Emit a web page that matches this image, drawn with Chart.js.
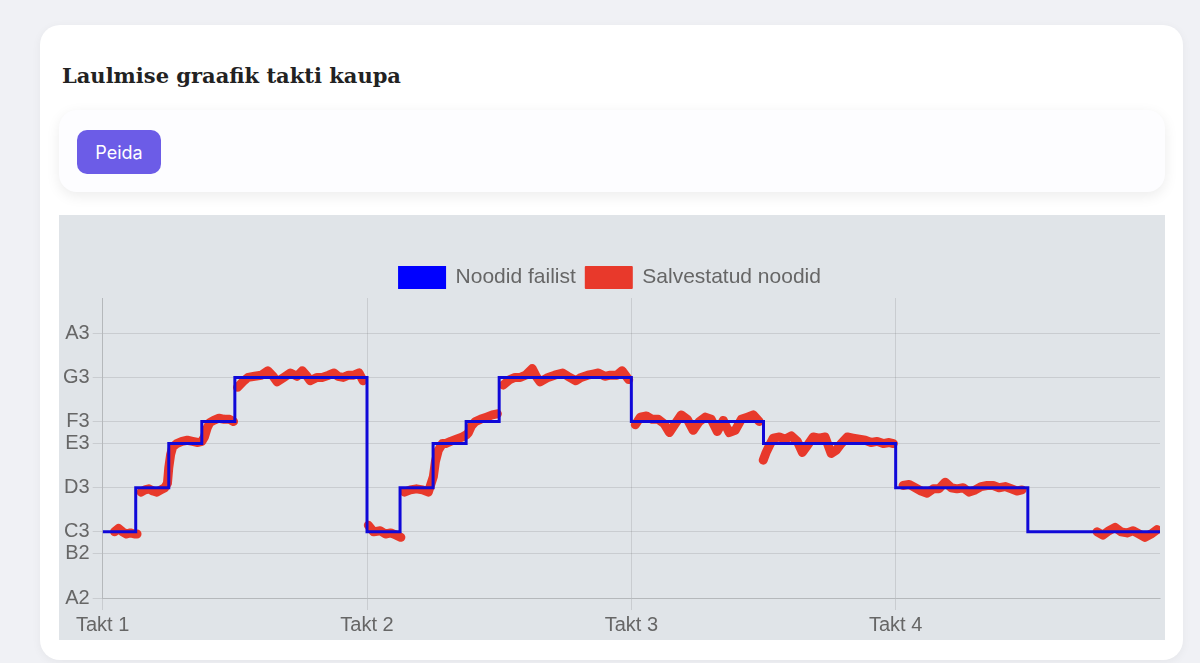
<!DOCTYPE html>
<html lang="et">
<head>
<meta charset="utf-8">
<title>Laulmise graafik takti kaupa</title>
<script src="https://cdn.jsdelivr.net/npm/chart.js@4.4.1/dist/chart.umd.min.js"></script>
<style>
  html, body { margin: 0; padding: 0; }
  body {
    background: #f0f1f5;
    width: 1200px;
    height: 663px;
    overflow: hidden;
    position: relative;
    font-family: Inter, "Noto Sans", sans-serif;
  }
  .card {
    position: absolute;
    left: 40px;
    top: 25px;
    width: 1143px;
    height: 635px;
    background: #fff;
    border-radius: 20px;
    box-shadow: 0 2px 10px rgba(0, 0, 0, 0.05);
  }
  .card h2 {
    position: absolute;
    left: 22px;
    top: 38px;
    margin: 0;
    font-family: "DejaVu Serif", serif;
    font-size: 21px;
    font-weight: bold;
    color: #222;
  }
  .panel {
    position: absolute;
    left: 19px;
    top: 85px;
    width: 1106px;
    height: 82px;
    background: #fdfdff;
    border-radius: 18px;
    box-shadow: 0 4px 14px rgba(0, 0, 0, 0.08);
  }
  .panel button {
    position: absolute;
    left: 18px;
    top: 20px;
    width: 84px;
    height: 44px;
    border: none;
    border-radius: 10px;
    background: #6c5ce7;
    color: #fff;
    font-family: Inter, sans-serif;
    font-size: 18px;
  }
  .chart-box {
    position: absolute;
    left: 19px;
    top: 190px;
    width: 1106px;
    height: 425px;
    background: #e0e4e8;
  }
</style>
</head>
<body>
<div class="card">
  <h2>Laulmise graafik takti kaupa</h2>
  <div class="panel"><button type="button">Peida</button></div>
  <div class="chart-box"><canvas id="pitchChart"></canvas></div>
</div>

<script>
// x = takt (measure) position, y = MIDI note number
const taktTicks = [1, 2, 3, 4];
const taktLabels = ["Takt 1", "Takt 2", "Takt 3", "Takt 4"];
const noteTicks = [45, 47, 48, 50, 52, 53, 55, 57];
const noteNames = ["A2", "B2", "C3", "D3", "E3", "F3", "G3", "A3"];

// notes from the file (step line)
const fileTime = [1, 1.125, 1.25, 1.375, 1.5, 2, 2.125, 2.25, 2.375, 2.5, 3, 3.5, 4, 4.5, 5];
const filePitch = [48, 50, 52, 53, 55, 48, 50, 52, 53, 55, 53, 52, 50, 48, 48];

// recorded pitch (null = break in the line)
const recTime = [
  1.045, 1.06, 1.075, 1.09, 1.105, 1.12, 1.13, 1.137,
  1.145, 1.16, 1.175, 1.19, 1.205, 1.22, 1.235, 1.245, 1.25, 1.257, 1.265, 1.28, 1.3, 1.32, 1.34, 1.36,
  1.375, 1.385, 1.395, 1.405, 1.42, 1.44, 1.46, 1.48, 1.495, 1.503,
  1.51, 1.53, 1.55, 1.575, 1.6, 1.625, 1.645, 1.66, 1.685, 1.71, 1.735, 1.755, 1.77, 1.785, 1.81, 1.83,
  1.855, 1.875, 1.89, 1.91, 1.93, 1.95, 1.97, 1.985, 1.995,
  2.005, 2.025, 2.05, 2.07, 2.09, 2.11, 2.128, 2.135,
  2.142, 2.164, 2.187, 2.21, 2.232, 2.251, 2.259, 2.27, 2.285, 2.297, 2.316, 2.338, 2.361, 2.376,
  2.384, 2.395, 2.41, 2.429, 2.452, 2.474, 2.493, 2.505,
  2.515, 2.54, 2.56, 2.58, 2.6, 2.625, 2.64, 2.655, 2.685, 2.71, 2.74, 2.76, 2.79, 2.81, 2.835, 2.855,
  2.875, 2.9, 2.92, 2.945, 2.965, 2.99, 3.005,
  3.015, 3.034, 3.057, 3.079, 3.102, 3.124, 3.144, 3.166, 3.189, 3.212, 3.234, 3.257, 3.28, 3.302,
  3.325, 3.348, 3.37, 3.393, 3.416, 3.439, 3.461, 3.484, 3.492,
  3.499, 3.51, 3.522, 3.537, 3.56, 3.582, 3.605, 3.628, 3.647, 3.665, 3.688, 3.711, 3.733, 3.756,
  3.775, 3.794, 3.817, 3.839, 3.862, 3.885, 3.907, 3.93, 3.953, 3.975, 3.991, 4.01,
  4.028, 4.051, 4.074, 4.096, 4.119, 4.142, 4.164, 4.187, 4.21, 4.232, 4.255, 4.278, 4.301, 4.323,
  4.346, 4.369, 4.391, 4.414, 4.437, 4.459, 4.478, 4.6,
  4.762, 4.784, 4.807, 4.83, 4.853, 4.875, 4.898, 4.921, 4.943, 4.966, 4.989
];
const recPitch = [
  48.0, 48.15, 48.0, 47.9, 47.95, 47.9, 47.9, null,
  49.8, 49.9, 49.95, 49.85, 49.8, 49.9, 50.0, 50.2, 50.9, 51.5, 51.85, 52.0, 52.1, 52.15, 52.1, 52.05,
  52.1, 52.3, 52.7, 52.95, 53.05, 53.15, 53.1, 53.1, 53.0, null,
  54.55, 54.8, 55.0, 55.05, 55.1, 55.3, 55.05, 54.8, 55.0, 55.2, 55.05, 55.3, 55.1, 54.85, 55.0, 55.0,
  55.1, 55.2, 55.05, 55.0, 55.1, 55.1, 55.2, 54.85, null,
  48.3, 48.0, 48.05, 47.9, 47.95, 47.85, 47.75, null,
  49.8, 49.9, 49.95, 49.9, 49.8, 50.5, 51.2, 51.7, 52.0, 52.0, 52.1, 52.2, 52.3, 52.4,
  52.5, 52.8, 53.0, 53.1, 53.2, 53.3, 53.35, null,
  54.65, 54.9, 55.0, 55.0, 55.1, 55.4, 55.05, 54.8, 55.0, 55.1, 55.2, 55.05, 54.85, 55.0, 55.1, 55.15,
  55.2, 55.05, 55.1, 55.1, 55.3, 54.9, null,
  52.85, 53.2, 53.25, 53.1, 53.1, 52.9, 52.5, 52.9, 53.3, 53.1, 52.6, 53.0, 53.2, 53.1,
  52.55, 53.05, 52.5, 52.6, 53.1, 53.2, 53.3, 53.0, null,
  51.25, 51.6, 51.9, 52.25, 52.3, 52.2, 52.35, 52.1, 51.6, 51.9, 52.3, 52.25, 52.3, 51.55,
  51.7, 52.0, 52.3, 52.25, 52.2, 52.15, 52.05, 52.1, 52.0, 52.05, 52.0, null,
  50.1, 50.15, 50.0, 49.85, 49.75, 49.95, 49.95, 50.25, 50.0, 49.95, 50.0, 49.8, 49.9, 50.05,
  50.1, 50.1, 50.0, 50.05, 49.95, 49.85, 49.9, null,
  48.0, 47.85, 48.05, 48.2, 48.0, 47.95, 48.05, 47.9, 47.75, 47.9, 48.1
];

const tickFont = { family: "'Liberation Sans', Arial, sans-serif", size: 20 };
const xTickFont = { family: "'Liberation Sans', Arial, sans-serif", size: 20, lineHeight: 1 };
const legendFont = { family: "'Liberation Sans', Arial, sans-serif", size: 21 };

const ctx = document.getElementById("pitchChart").getContext("2d");
new Chart(ctx, {
  type: "line",
  data: {
    datasets: [
      {
        label: "Noodid failist",
        data: fileTime.map((t, i) => ({ x: t, y: filePitch[i] })),
        borderColor: "#1008d8",
        backgroundColor: "#0000ff",
        borderWidth: 3,
        stepped: "before",
        pointRadius: 0,
      },
      {
        label: "Salvestatud noodid",
        data: recTime.map((t, i) => ({ x: t, y: recPitch[i] })),
        borderColor: "#e8392b",
        backgroundColor: "#e8392b",
        borderWidth: 9,
        borderCapStyle: "round",
        borderJoinStyle: "round",
        pointRadius: 0,
        spanGaps: false,
      },
    ],
  },
  options: {
    responsive: true,
    maintainAspectRatio: false,
    animation: false,
    layout: { padding: { top: 42, left: 1, right: 5, bottom: 0 } },
    plugins: {
      tooltip: { enabled: false },
      legend: {
        labels: {
          font: legendFont,
          color: "#666",
          boxWidth: 46,
          boxHeight: 21,
          generateLabels: (chart) =>
            Chart.defaults.plugins.legend.labels.generateLabels(chart).map((item) => {
              item.lineWidth = 2;
              item.strokeStyle = item.fillStyle;
              return item;
            }),
        },
      },
    },
    scales: {
      x: {
        type: "linear",
        min: 1,
        max: 5,
        afterBuildTicks: (axis) => {
          axis.ticks = taktTicks.map((v) => ({ value: v }));
        },
        ticks: {
          font: xTickFont,
          color: "#666",
          padding: 5,
          autoSkip: false,
          maxRotation: 0,
          callback: (v) => taktLabels[taktTicks.indexOf(v)],
        },
        grid: { tickLength: 12 },
      },
      y: {
        type: "linear",
        min: 45,
        max: 58.6,
        afterBuildTicks: (axis) => {
          axis.ticks = noteTicks.map((v) => ({ value: v }));
        },
        ticks: {
          font: tickFont,
          color: "#666",
          autoSkip: false,
          callback: (v) => noteNames[noteTicks.indexOf(v)],
        },
        grid: { tickLength: 10 },
      },
    },
  },
});
</script>
</body>
</html>
